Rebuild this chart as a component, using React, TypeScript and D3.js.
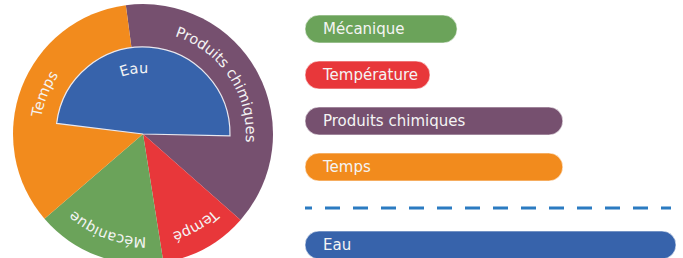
import { useEffect, useRef } from "react";
import * as d3 from "d3";

// pie slices, clockwise from the top
const sliceLabels = ["Produits chimiques", "Température", "Mécanique", "Temps"];
const sliceValues = [38.6, 11, 16.2, 34.2];
const sliceColors = ["#76506f", "#e8373a", "#6ba35a", "#f28b1d"];
const labelOffsets = ["46%", "48%", "50%", "51%"];

// inner half disc
const innerLabel = "Eau";
const innerValue = 48.4; // percent of a full turn
const innerColor = "#3763ab";

// legend bars
const legendLabels = ["Mécanique", "Température", "Produits chimiques", "Temps", "Eau"];
const legendValues = [41, 33.7, 69.5, 69.5, 100];
const legendColors = ["#6ba35a", "#e8373a", "#76506f", "#f28b1d", "#3763ab"];

const W = 683;
const H = 258;
const FONT = "'DejaVu Sans', Verdana, sans-serif";

export default function App() {
  const ref = useRef<SVGSVGElement | null>(null);

  useEffect(() => {
    const svg = d3.select(ref.current);
    svg.selectAll("*").remove();

    const cx = 143;
    const cy = 134;
    const outerR = 130;
    const innerR = 87;
    const labelR = 103;
    const rad = Math.PI / 180;

    const g = svg.append("g").attr("transform", `translate(${cx},${cy})`);

    const pie = d3
      .pie<number>()
      .sort(null)
      .value((d) => d)
      .startAngle(-7.6 * rad)
      .endAngle(352.4 * rad);
    const arcs = pie(sliceValues);

    const arc = d3.arc<d3.PieArcDatum<number>>().innerRadius(0).outerRadius(outerR);

    g.selectAll("path.slice")
      .data(arcs)
      .join("path")
      .attr("class", "slice")
      .attr("fill", (_, i) => sliceColors[i])
      .attr("d", arc);

    // curved labels along each slice
    const labelPath = (r: number, a0: number, a1: number) => {
      const p = d3.path();
      p.arc(0, 0, r, a0 - Math.PI / 2, a1 - Math.PI / 2, false);
      return p.toString();
    };

    const defs = svg.append("defs");

    arcs.forEach((a, i) => {
      const id = `lp${i}`;
      defs.append("path").attr("id", id).attr("d", labelPath(labelR, a.startAngle, a.endAngle));
      const text = g
        .append("text")
        .attr("font-family", FONT)
        .attr("font-size", 14.5)
        .attr("fill", "#f4f4f4");
      const tp = text
        .append("textPath")
        .attr("href", `#${id}`)
        .attr("startOffset", labelOffsets[i])
        .attr("text-anchor", "middle")
        .text(sliceLabels[i]);
      // shorten labels that do not fit their slice
      const avail = (a.endAngle - a.startAngle) * labelR - 20;
      let label = sliceLabels[i];
      const node = tp.node() as SVGTextContentElement;
      while (label.length > 1 && node.getComputedTextLength() > avail) {
        label = label.slice(0, -1);
        tp.text(label);
      }
    });

    // inner half disc
    const i0 = -83 * rad;
    const i1 = i0 + (innerValue / 100) * 2 * Math.PI;
    g.append("path")
      .attr("fill", innerColor)
      .attr("stroke", "#e8e8f0")
      .attr("stroke-width", 1.2)
      .attr("d", d3.arc()({ innerRadius: 0, outerRadius: innerR, startAngle: i0, endAngle: i1 }) as string);

    defs.append("path").attr("id", "lpEau").attr("d", labelPath(61, i0, i1));
    g.append("text")
      .attr("font-family", FONT)
      .attr("font-size", 14.5)
      .attr("fill", "#f4f4f4")
      .append("textPath")
      .attr("href", "#lpEau")
      .attr("startOffset", "43%")
      .attr("text-anchor", "middle")
      .text(innerLabel);

    // legend
    const x0 = 305;
    const barH = 28;
    const x = d3.scaleLinear().domain([0, 100]).range([0, 371]);
    const rowY = (i: number) => (i < 4 ? 15 + i * 46 : 231);

    const rows = svg
      .append("g")
      .selectAll("g")
      .data(legendLabels)
      .join("g")
      .attr("transform", (_, i) => `translate(${x0},${rowY(i)})`);

    rows
      .append("rect")
      .attr("width", (_, i) => x(legendValues[i]))
      .attr("height", barH)
      .attr("rx", barH / 2)
      .attr("fill", (_, i) => legendColors[i])
      .attr("stroke", "rgba(255,255,255,0.6)")
      .attr("stroke-width", 1);

    rows
      .append("text")
      .attr("x", 18)
      .attr("y", barH / 2 + 5)
      .attr("font-family", FONT)
      .attr("font-size", 15)
      .attr("fill", "#f4f4f4")
      .text((d) => d);

    svg
      .append("line")
      .attr("x1", x0)
      .attr("x2", 671)
      .attr("y1", 208)
      .attr("y2", 208)
      .attr("stroke", "#2b7bc1")
      .attr("stroke-width", 3)
      .attr("stroke-dasharray", "15,13")
      .attr("stroke-dashoffset", 8);
  }, []);

  return (
    <svg
      ref={ref}
      width={W}
      height={H}
      style={{ position: "absolute", left: 0, top: 0, background: "#fff" }}
    />
  );
}
